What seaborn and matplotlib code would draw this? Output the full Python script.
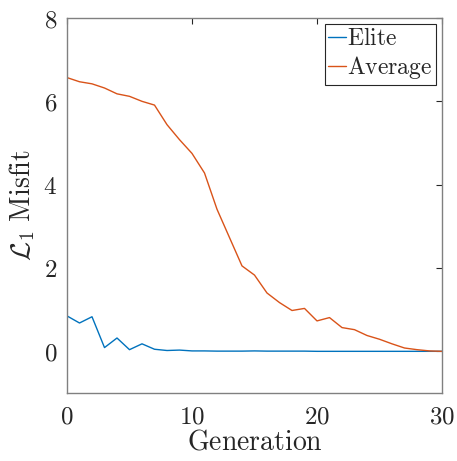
import numpy as np
import pandas as pd
import seaborn as sns
import matplotlib
matplotlib.use("Agg")
import matplotlib.pyplot as plt
from matplotlib.ticker import FuncFormatter

generation = list(range(31))
elite = [0.85, 0.68, 0.83, 0.09, 0.32, 0.04, 0.18, 0.05, 0.02, 0.03,
         0.01, 0.01, 0.005, 0.005, 0.005, 0.01, 0.005, 0.005, 0.005, 0.005,
         0.0, 0.0, 0.0, 0.0, 0.0, 0.0, 0.0, 0.0, 0.0, 0.0, 0.0]
average = [6.57, 6.47, 6.42, 6.32, 6.18, 6.12, 6.00, 5.91, 5.44, 5.08,
           4.75, 4.28, 3.41, 2.73, 2.05, 1.83, 1.40, 1.17, 0.98, 1.03,
           0.73, 0.81, 0.57, 0.52, 0.38, 0.29, 0.18, 0.08, 0.04, 0.01, 0.0]
series_names = ["Elite", "Average"]
x_ticks = [0, 10, 20, 30]
y_ticks = [0, 2, 4, 6, 8]

sns.set_style("white")
plt.rcParams["mathtext.fontset"] = "cm"
plt.rcParams["font.family"] = ["DejaVu Serif"]

df = pd.DataFrame({
    "Generation": generation * 2,
    "Misfit": elite + average,
    "Series": [series_names[0]] * len(generation) + [series_names[1]] * len(generation),
})

fig = plt.figure(figsize=(4.57, 4.61), dpi=100)
ax = fig.add_axes([67/457, 1 - 393/461, (442-67)/457, (393-18)/461])
sns.lineplot(data=df, x="Generation", y="Misfit", hue="Series",
             palette=["#0072BD", "#D95319"], linewidth=1.0, ax=ax)

ax.set_xlim(0, 30)
ax.set_ylim(-1, 8)
ax.set_xticks(x_ticks)
ax.set_yticks(y_ticks)
fmt = FuncFormatter(lambda v, p: r"$\mathrm{%d}$" % v)
ax.xaxis.set_major_formatter(fmt)
ax.yaxis.set_major_formatter(fmt)
ax.tick_params(direction="in", length=4, width=0.8, colors="#262626",
               labelsize=18, top=True, right=True)
ax.tick_params(axis="x", pad=9)
ax.tick_params(axis="y", pad=7)
for lbl in ax.get_xticklabels() + ax.get_yticklabels():
    lbl.set_color("#262626")
for s in ax.spines.values():
    s.set_color("#808080")
    s.set_linewidth(1.0)
ax.set_xlabel(r"$\mathrm{Generation}$", fontsize=20, color="#262626", labelpad=0)
ax.set_ylabel(r"$\mathcal{L}_1\ \mathrm{Misfit}$", fontsize=20, color="#262626", labelpad=5)

handles, labels = ax.get_legend_handles_labels()
leg = ax.legend(handles, [r"$\mathrm{%s}$" % l for l in labels], loc="upper right",
                fontsize=17, frameon=True, fancybox=False, edgecolor="#262626",
                framealpha=1, handlelength=0.75, handletextpad=0.05,
                borderpad=0.15, labelspacing=0.15, borderaxespad=0.25)
leg.get_frame().set_linewidth(0.8)

fig.savefig("out.png", dpi=100)
